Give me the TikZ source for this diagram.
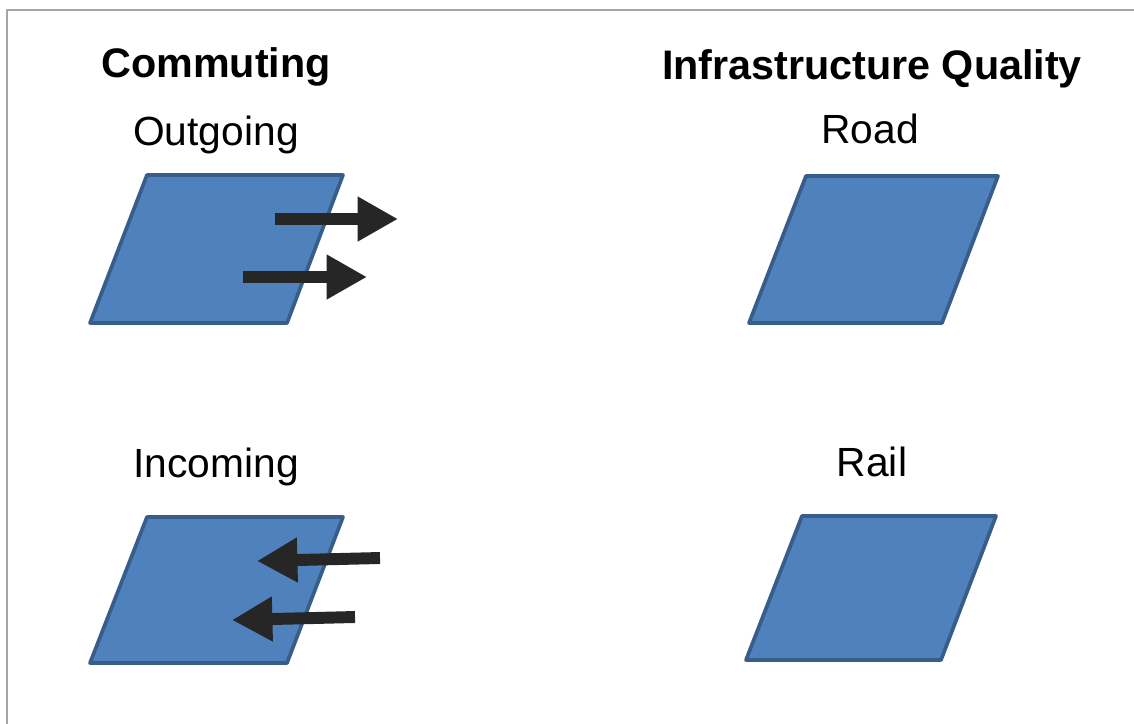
\documentclass[tikz,border=0pt]{standalone}
\usepackage{fontspec}
\setmainfont{Liberation Sans}
\usetikzlibrary{arrows.meta}
\definecolor{tileblue}{HTML}{4F81BD}
\definecolor{tileedge}{HTML}{385D8A}
\definecolor{arrowdark}{HTML}{262626}
\definecolor{framegray}{HTML}{A6A6A6}
\begin{document}
\begin{tikzpicture}[x=0.02cm, y=-0.02cm, line join=round,
		title/.style={font=\fontsize{23.5}{28}\selectfont\bfseries, anchor=base, inner sep=0pt},
		label/.style={font=\fontsize{23.2}{28}\selectfont, anchor=base, inner sep=0pt},
		tile/.style={fill=tileblue, draw=tileedge, line width=2.1pt},
		flow/.style={draw=arrowdark, line width=6.8pt, -{Triangle[length=23pt, width=24pt]}}]
	\useasboundingbox (0,0) rectangle (1134,724);
	\draw[framegray, line width=1pt] (7,724) -- (7,10) -- (1134,10);
	% headings
	\node[title] (hdcomm) at (216,77) {Commuting};
	\node[title] (hdinfra) at (872,79) {Infrastructure Quality};
	\node[label] (lbout) at (216,145) {Outgoing};
	\node[label] (lbin) at (216,477) {Incoming};
	\node[label] (lbroad) at (870,143) {Road};
	\node[label] (lbrail) at (872,476) {Rail};
	% tiles
	\foreach \a/\b/\c/\d/\t/\u in {147/343/90/287/175/323, 147/343/90/287/517/663, 806/998/749/942/176/323, 802/996/746/941/516/660}
		\draw[tile] (\a,\t) -- (\b,\t) -- (\d,\u) -- (\c,\u) -- cycle;
	% commuting arrows
	\coordinate (oa1) at (275,219); \coordinate (ob1) at (398,219);
	\coordinate (oa2) at (243,277); \coordinate (ob2) at (367,277);
	\coordinate (ia1) at (380,558); \coordinate (ib1) at (257,561);
	\coordinate (ia2) at (355,617); \coordinate (ib2) at (232,620);
	\draw[flow] (oa1) -- (ob1);
	\draw[flow] (oa2) -- (ob2);
	\draw[flow] (ia1) -- (ib1);
	\draw[flow] (ia2) -- (ib2);
\end{tikzpicture}
\end{document}
